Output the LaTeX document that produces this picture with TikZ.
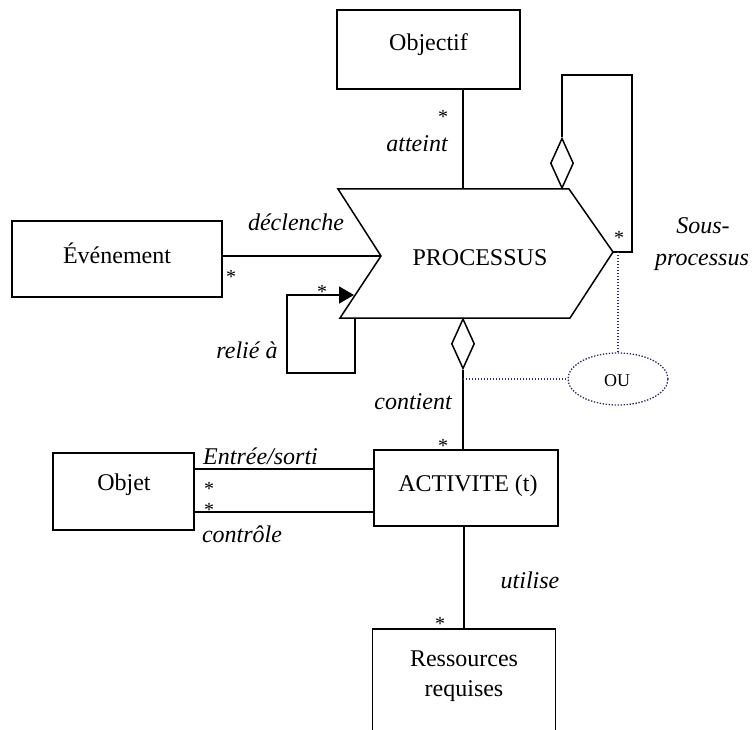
\documentclass[tikz,border=0pt]{standalone}
\usepackage{fontspec}
\setmainfont{Liberation Serif}
\usetikzlibrary{shapes.geometric,arrows.meta}

\tikzset{
  box/.style={draw, line width=1.5pt, inner sep=0pt},
  clstext/.style={font=\fontsize{24}{27}\selectfont, inner sep=0pt},
  roletext/.style={font=\fontsize{24}{27}\selectfont\itshape, inner sep=0pt},
  mult/.style={font=\fontsize{20}{21}\selectfont, inner sep=0pt},
  link/.style={line width=1.5pt},
  agg/.style={diamond, draw, line width=1.5pt, fill=white, inner sep=0pt,
              minimum width=23pt, minimum height=50pt},
  choice/.style={draw=ouline, line width=1.3pt, dash pattern=on 1.4pt off 1.6pt},
}
\definecolor{ouline}{RGB}{45,45,105}

\begin{document}
\begin{tikzpicture}[x=1pt, y=-1pt]
\useasboundingbox[fill=white] (0,0) rectangle (755,730);

% classes
\node[box, minimum width=183pt, minimum height=79pt] (obj) at (428.5,49.5) {};
\node[clstext] at (428.5,45) {Objectif};

\node[box, minimum width=210pt, minimum height=76pt] (evt) at (117,259) {};
\node[clstext] at (117,253) {Événement};

\node[box, minimum width=141pt, minimum height=77pt] (objet) at (123.5,491.5) {};
\node[clstext] at (124,485) {Objet};

\node[box, minimum width=184pt, minimum height=76pt] (act) at (466,488) {};
\node[clstext] at (468,486) {ACTIVITE (t)};

\node[box, minimum width=183pt, minimum height=124pt, anchor=north] (res) at (464,628) {};
\node[clstext, align=center] at (464,676) {Ressources\\[3pt]requises};

% process chevron
\coordinate (pTL) at (338,189);
\coordinate (pTR) at (569,189);
\coordinate (pTip) at (613,252);
\coordinate (pBR) at (570,318);
\coordinate (pBL) at (340,318);
\coordinate (pN) at (381,256);
\draw[link, line join=miter] (pTL) -- (pTR) -- (pTip) -- (pBR) -- (pBL) -- (pN) -- cycle;
\node[clstext] (proc) at (480,258) {PROCESSUS};

% Objectif -- Processus
\coordinate (pObj) at (463,189);
\draw[link] (pObj |- obj.south) -- (pObj);
\node[mult] at (443,117) {*};
\node[roletext] at (417,144) {atteint};

% Evenement -- Processus
\draw[link] (evt.east |- pN) -- (pN);
\node[roletext] at (296,222) {déclenche};
\node[mult] at (231,277) {*};

% reflexive link
\coordinate (rA) at (355,318);
\coordinate (rB) at (354,295);
\draw[link, -{Triangle[length=15pt,width=17pt]}] (rA) -- (355,373) -- (287,373) -- (287,295) -- (rB);
\node[mult] at (322,292) {*};
\node[roletext] at (247,350) {relié à};

% sub-process aggregation
\node[agg, anchor=south] (dSub) at (562,189) {};
\draw[link] (dSub.north) -- (562,75) -- (632,75) -- (632,252) -- (pTip);
\node[mult] at (619,238) {*};
\node[roletext] at (703,226) {Sous-};
\node[roletext] at (702,262) {processus};

% choice between the two aggregations
\node[ellipse, choice, minimum width=100pt, minimum height=52pt, inner sep=0pt] (ou) at (618,379) {};
\node[font=\fontsize{18}{19}\selectfont, inner sep=0pt] at (617,381) {OU};
\draw[choice] (ou.north |- pTip) -- (ou.north);

% contient aggregation
\node[agg, anchor=north] (dCont) at (463,318) {};
\draw[link] (dCont.south) -- (dCont.south |- act.north);
\draw[choice] (dCont.south |- ou.west) -- (ou.west);
\node[roletext] at (413,402) {contient};
\node[mult] at (443,446) {*};

% Objet -- ACTIVITE
\draw[link] ([yshift=22.5pt]objet.east) -- ([yshift=22.5pt]objet.east -| act.west);
\draw[link] ([yshift=-20.5pt]objet.east) -- ([yshift=-20.5pt]objet.east -| act.west);
\node[roletext, anchor=west] at (203,456) {Entrée/sorti};
\node[mult] at (209,489) {*};
\node[mult] at (209,510) {*};
\node[roletext] at (242,534) {contrôle};

% ACTIVITE -- Ressources
\draw[link] (res.north |- act.south) -- (res.north);
\node[roletext] at (530,580) {utilise};
\node[mult] at (440,624) {*};
\end{tikzpicture}
\end{document}
